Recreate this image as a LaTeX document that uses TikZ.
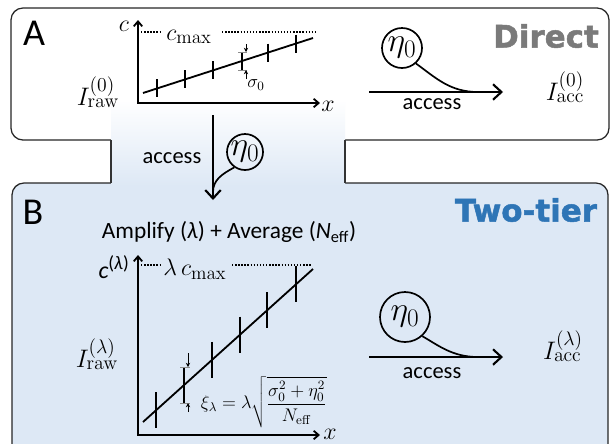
\documentclass[tikz,border=0pt]{standalone}
\usepackage{fix-cm}
\usepackage[no-math]{fontspec}
\setmainfont{Carlito}
\newfontfamily\headfont[BoldFeatures={FakeBold=1.6}]{DejaVu Sans}
\usepackage{xcolor}
\usetikzlibrary{arrows.meta,positioning,calc}

\DeclareMathSizes{24}{24}{18}{13}
\DeclareMathSizes{18}{18}{14}{10}
\DeclareMathSizes{17}{17}{13.5}{10}

\definecolor{panelblue}{RGB}{221,232,245}
\definecolor{tierblue}{RGB}{46,117,182}
\definecolor{directgray}{RGB}{122,122,122}

\begin{document}
\begin{tikzpicture}[
    x=0.025cm, y=-0.025cm,
    panel/.style={draw=black!85, line width=0.9pt, rounded corners=8.5pt},
    axisline/.style={line width=1.3pt, {Straight Barb[length=3.5pt,width=6pt]}-{Straight Barb[length=3.5pt,width=6pt]}},
    fitline/.style={line width=1.3pt},
    errbar/.style={line width=1.3pt},
    capline/.style={line width=0.6pt, black!45},
    tinyarrow/.style={line width=0.6pt, -{Stealth[length=3pt,width=3pt]}},
    maxline/.style={line width=1pt, dash pattern=on 1pt off 1.2pt},
    accarrow/.style={line width=1.5pt, -{Straight Barb[length=6pt,width=11pt]}},
    noisecurve/.style={line width=1.2pt},
    etacirc/.style={circle, draw, line width=1.2pt, inner sep=0pt, font=\fontsize{24}{24}\selectfont},
    lbl/.style={font=\fontsize{16}{16}\selectfont},
    bigletter/.style={font=\fontsize{27}{27}\selectfont},
    head/.style={font=\headfont\bfseries\fontsize{22}{22}\selectfont},
    mlarge/.style={font=\fontsize{18}{18}\selectfont},
    mmid/.style={font=\fontsize{17}{17}\selectfont},
    msmall/.style={font=\fontsize{13}{13}\selectfont}
]
\useasboundingbox (0,0) rectangle (616,443);

% panels and the tab between them
\draw[panel, fill=white] (11,8) rectangle (609,140);
\draw[panel, fill=panelblue] (12,183) rectangle (608,480);
\shade[top color=white, bottom color=panelblue] (111,100) rectangle (345,186);
\draw[black!80, line width=0.9pt] (111,140) -- (111,183);
\draw[black!80, line width=0.9pt] (345,140) -- (345,183);

% ---- panel A: direct access ----
\node[bigletter] (labA) at (34,33) {A};
\node[head, text=directgray] (direct) at (546,36) {Direct};

\draw[axisline] (138,20) |- (320,103);
\node[mmid] (cA) at (124,26) {$c$};
\node[mmid] (xA) at (328,106) {$x$};
\draw[maxline] (141,32) -- (160,32);
\node[mmid] (cmaxA) at (189,37) {$c_{\mathrm{max}}$};
\draw[maxline] (222,32) -- (315,32);

\draw[fitline] (143,93) -- (313,38);
\foreach \x in {157,185,213,242,268,296}
  \draw[errbar] (\x,{93-(\x-143)*0.3235-9}) -- (\x,{93-(\x-143)*0.3235+9});
\draw[capline] (238,52) -- (247,52);
\draw[capline] (238,70) -- (247,70);
\draw[tinyarrow] (246,44) -- (246,52);
\draw[tinyarrow] (246,79) -- (246,70);
\node[msmall] (sigA) at (256,85) {$\sigma_0$};

\node[mlarge] (rawA) at (98,92) {$I^{(0)}_{\mathrm{raw}}$};
\node[mlarge] (accA) at (565,87) {$I^{(0)}_{\mathrm{acc}}$};

\node[etacirc, minimum size=1cm] (etaA) at (402,48) {$\eta_0$};
\coordinate (inA) at (369,92);
\coordinate (outA) at (503,92);
\coordinate (joinA) at (478,92);
\draw[accarrow] (inA) -- (outA);
\draw[noisecurve] (etaA.-48) .. controls (436,78) and (450,92) .. (joinA);
\node[lbl] (accessA) at (432,104) {access};

% ---- tab: access into the two-tier scheme ----
\coordinate (vtop) at (213,115);
\coordinate (vbot) at (213,200);
\draw[accarrow] (vtop) -- (vbot);
\node[etacirc, minimum size=0.9cm] (etaV) at (245,152) {$\eta_0$};
\draw[noisecurve] (etaV.-125) .. controls (222,174) and (213,180) .. (213,192);
\node[lbl] (accessV) at (172,158) {access};

% ---- panel B: two-tier ----
\node[bigletter] (labB) at (33,212) {B};
\node[head, text=tierblue] (twotier) at (526,210) {Two-tier};
\node[font=\fontsize{16.6}{16.6}\selectfont] (amplify) at (229,232) {Amplify (\textit{λ}) + Average (\textit{N}\textsubscript{eff})};

\draw[axisline] (138,255) |- (320,435);
\node[font=\fontsize{17}{17}\selectfont] (cB) at (114,267) {\textit{c}\textsuperscript{(\textit{λ})}};
\node[mmid] (xB) at (330,434) {$x$};
\draw[maxline] (141,265) -- (160,265);
\node[mmid] (cmaxB) at (195,269) {$\lambda\, c_{\mathrm{max}}$};
\draw[maxline] (232,265) -- (312,265);

\draw[fitline] (143,422) -- (313,269);
\foreach \x in {156,184,212,240,267,296}
  \draw[errbar] (\x,{422-(\x-143)*0.9-18}) -- (\x,{422-(\x-143)*0.9+18});
\draw[capline] (180,367) -- (190,367);
\draw[capline] (180,403) -- (190,403);
\draw[tinyarrow] (188,353) -- (188,367);
\draw[tinyarrow] (188,412) -- (188,403);
\node[msmall, anchor=west] (xiB) at (196,402) {$\xi_\lambda = \lambda\sqrt{\displaystyle\frac{\sigma_0^2+\eta_0^2}{N_{\mathrm{eff}}}}$};

\node[mlarge] (rawB) at (97,354) {$I^{(\lambda)}_{\mathrm{raw}}$};
\node[mlarge] (accB) at (563,346) {$I^{(\lambda)}_{\mathrm{acc}}$};

\node[etacirc, minimum size=1.25cm] (etaB) at (405,317) {$\eta_0$};
\coordinate (inB) at (369,357);
\coordinate (outB) at (503,357);
\coordinate (joinB) at (478,357);
\draw[accarrow] (inB) -- (outB);
\draw[noisecurve] (etaB.-48) .. controls (438,345) and (452,357) .. (joinB);
\node[lbl] (accessB) at (432,373) {access};
\end{tikzpicture}
\end{document}
